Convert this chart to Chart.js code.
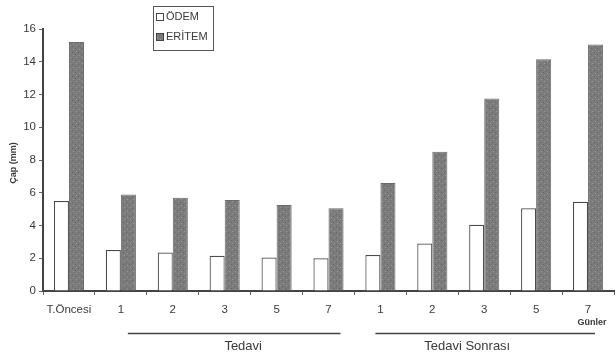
<!DOCTYPE html>
<html>
<head>
<meta charset="utf-8">
<script src="https://cdn.jsdelivr.net/npm/chart.js@4"></script>
<style>
  html, body { margin: 0; padding: 0; background: #fff; }
  #wrap { width: 616px; height: 358px; position: relative; }
</style>
</head>
<body>
<div id="wrap"><canvas id="chart"></canvas></div>
<script>
// days, before / during / after treatment
var categories = ["T.Öncesi", "1", "2", "3", "5", "7", "1", "2", "3", "5", "7"];
var odem = [5.5, 2.5, 2.35, 2.15, 2.05, 2.0, 2.2, 2.9, 4.05, 5.05, 5.45];
var eritem = [15.2, 5.9, 5.7, 5.55, 5.25, 5.05, 6.6, 8.5, 11.75, 14.15, 15.05];
var seriesNames = ["ÖDEM", "ERİTEM"];
var groupNames = ["Tedavi", "Tedavi Sonrası"];
var groupFrom = [1, 6];
var groupTo = [5, 10];

var textColor = "#3a3a3a";
var font = "Liberation Sans, Arial, sans-serif";

// stippled grey fill like the printed bars
function stipple() {
	var c = document.createElement("canvas");
	c.width = 6; c.height = 6;
	var g = c.getContext("2d");
	g.fillStyle = "#7b7b7b";
	g.fillRect(0, 0, 6, 6);
	g.fillStyle = "#9a9a9a";
	g.fillRect(1, 1, 1, 1);
	g.fillRect(4, 3, 1, 1);
	g.fillStyle = "#666";
	g.fillRect(3, 0, 1, 1);
	g.fillRect(0, 4, 1, 1);
	return g.createPattern(c, "repeat");
}
var eritemFill = stipple();

// extra drawing: legend box, axis title, group lines, "Günler"
var extras = {
	id: "extras",
	afterDraw: function (chart) {
		var ctx = chart.ctx;
		var x = chart.scales.x;
		ctx.save();

		// legend
		ctx.strokeStyle = "#555";
		ctx.lineWidth = 1;
		ctx.strokeRect(153.5, 6.5, 60, 44);
		ctx.font = "11px " + font;
		ctx.textBaseline = "middle";
		chart.data.datasets.forEach(function (ds, i) {
			var y = 17 + i * 20;
			ctx.fillStyle = ds.backgroundColor;
			ctx.fillRect(156, y - 4, 8, 8);
			ctx.strokeStyle = "#444";
			ctx.strokeRect(156.5, y - 3.5, 7, 7);
			ctx.fillStyle = textColor;
			ctx.textAlign = "left";
			ctx.fillText(ds.label, 166, y);
		});

		// y axis title
		ctx.save();
		ctx.translate(14, 163);
		ctx.rotate(-Math.PI / 2);
		ctx.font = "bold 9px " + font;
		ctx.textAlign = "center";
		ctx.fillText("Çap (mm)", 0, 0);
		ctx.restore();

		// groups under the axis
		ctx.strokeStyle = "#444";
		ctx.lineWidth = 1.5;
		ctx.font = "13px " + font;
		ctx.textAlign = "center";
		ctx.textBaseline = "middle";
		var starts = [7, -5];
		var ends = [12, 7];
		var textShift = [9, -18];
		for (var g = 0; g < groupNames.length; g++) {
			var x0 = x.getPixelForValue(groupFrom[g]) + starts[g];
			var x1 = x.getPixelForValue(groupTo[g]) + ends[g];
			ctx.beginPath();
			ctx.moveTo(x0, 333.5);
			ctx.lineTo(x1, 333.5);
			ctx.stroke();
			ctx.fillStyle = textColor;
			ctx.fillText(groupNames[g], (x0 + x1) / 2 + textShift[g], 346);
		}

		// unit label under last tick
		ctx.font = "bold 9px " + font;
		ctx.fillText("Günler", x.getPixelForValue(categories.length - 1) + 4, 323);
		ctx.restore();
	}
};

new Chart(document.getElementById("chart"), {
	type: "bar",
	data: {
		labels: categories,
		datasets: [
			{
				label: seriesNames[0],
				data: odem,
				backgroundColor: "#ffffff",
				borderColor: "#4a4a4a",
				borderWidth: 1.2
			},
			{
				label: seriesNames[1],
				data: eritem,
				backgroundColor: eritemFill,
				borderColor: "#6a6a6a",
				borderWidth: 1
			}
		]
	},
	options: {
		responsive: true,
		maintainAspectRatio: false,
		animation: false,
		layout: { padding: { left: 0, top: 29, right: 2, bottom: 0 } },
		datasets: {
			bar: { barPercentage: 1.0, categoryPercentage: 0.58 }
		},
		plugins: {
			legend: { display: false },
			tooltip: { enabled: false }
		},
		scales: {
			x: {
				afterFit: function (scale) { scale.height = 67; },
				grid: { drawOnChartArea: false, tickLength: 4, color: "#666" },
				border: { color: "#444", width: 2 },
				ticks: {
					color: textColor,
					font: { family: font, size: 11.5 },
					padding: 8,
					maxRotation: 0,
					autoSkip: false
				}
			},
			y: {
				min: 0,
				max: 16,
				afterFit: function (scale) { scale.width = 43; },
				grid: { drawOnChartArea: false, tickLength: 4, color: "#666" },
				border: { color: "#444", width: 2 },
				ticks: {
					stepSize: 2,
					color: textColor,
					font: { family: font, size: 11.5 },
					padding: 3
				}
			}
		}
	},
	plugins: [extras]
});
</script>
</body>
</html>
